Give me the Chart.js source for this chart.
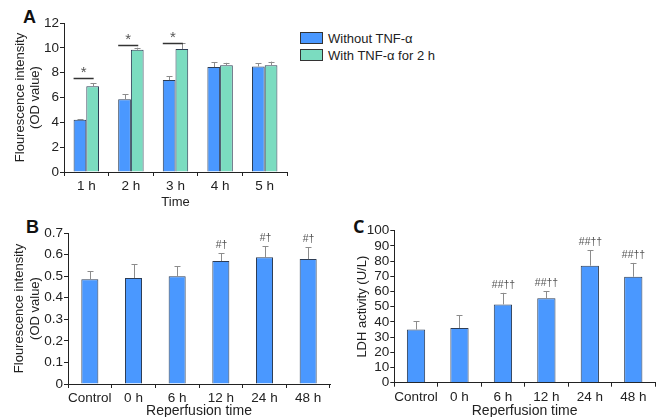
<!DOCTYPE html>
<html>
<head>
<meta charset="utf-8">
<script src="https://cdn.jsdelivr.net/npm/chart.js@4.4.1/dist/chart.umd.min.js"></script>
<style>
  body { margin: 0; background: #fff; width: 664px; height: 417px; overflow: hidden; position: relative;
         font-family: "Liberation Sans", Arial, sans-serif; color: #222; }
  .pane { position: absolute; }
  .tag { position: absolute; font-weight: bold; font-size: 18px; line-height: 18px; color: #111; }
  .legend { position: absolute; left: 300px; top: 32px; font-size: 13px; }
  .legend .row { display: flex; align-items: center; height: 12px; margin-bottom: 5px; }
  .legend .sw { width: 21px; height: 10px; border: 1px solid #333; margin-right: 5px; }
</style>
</head>
<body>
<div class="tag" style="left:23px;top:8px">A</div>
<div class="tag" style="left:26px;top:218px">B</div>
<div class="tag" style="left:353px;top:217px;font-family:'Open Sans',sans-serif">C</div>
<div class="legend" id="legendA"></div>

<div class="pane" style="left:0;top:0"><canvas id="chartA" width="300" height="210"></canvas></div>
<div class="pane" style="left:0;top:210px"><canvas id="chartB" width="336" height="210"></canvas></div>
<div class="pane" style="left:336px;top:210px"><canvas id="chartC" width="328" height="210"></canvas></div>

<script>
// ---- data ----
// A: fluorescence by time, with / without TNF-a
const timeA = ['1 h', '2 h', '3 h', '4 h', '5 h'];
const seriesA = ['Without TNF-\u03b1', 'With TNF-\u03b1 for 2 h'];
const withoutTNF = [4.2, 5.85, 7.4, 8.45, 8.5];
const withoutTNFsd = [0.05, 0.4, 0.32, 0.4, 0.27];
const withTNF = [6.9, 9.85, 9.9, 8.6, 8.6];
const withTNFsd = [0.24, 0.16, 0.45, 0.19, 0.29];
const sigLineA = [7.55, 10.25, 10.4, null, null]; // height of the "*" bracket

// B and C: by reperfusion time
const reperfusion = ['Control', '0 h', '6 h', '12 h', '24 h', '48 h'];
const fluoB = [0.486, 0.491, 0.5, 0.57, 0.588, 0.579];
const fluoBsd = [0.036, 0.065, 0.045, 0.037, 0.051, 0.056];
const marksB = ['', '', '', '#\u2020', '#\u2020', '#\u2020'];
const ldhC = [35, 36, 51.5, 55.5, 77, 69.7];
const ldhCsd = [5.3, 8.3, 7.6, 4.6, 10.1, 9.1];
const marksC = ['', '', '##\u2020\u2020', '##\u2020\u2020', '##\u2020\u2020', '##\u2020\u2020'];

const BLUE = '#4a98ff';
const GREEN = '#7bdcc0';
const EDGE = '#2d3d55';
const AXIS = '#222';
const TXT = '#222';
const FONT = '"Liberation Sans", Arial, sans-serif';
Chart.defaults.font.family = FONT;

// error bars, significance brackets and the little marks above bars
const errorPlugin = {
  id: 'errBars',
  afterDatasetsDraw(chart, args, opts) {
    const ctx = chart.ctx;
    const y = chart.scales.y;
    ctx.save();
    chart.data.datasets.forEach((ds, i) => {
      const sd = opts.sd[i];
      chart.getDatasetMeta(i).data.forEach((bar, j) => {
        const top = y.getPixelForValue(ds.data[j] + sd[j]);
        const x = Math.round(bar.x) + 0.5;
        ctx.strokeStyle = '#8c8c8c';
        ctx.lineWidth = 1;
        ctx.beginPath();
        ctx.moveTo(x, bar.y);
        ctx.lineTo(x, top);
        ctx.moveTo(x - 3, Math.round(top) + 0.5);
        ctx.lineTo(x + 3, Math.round(top) + 0.5);
        ctx.stroke();
        if (opts.marks && opts.marks[j]) {
          ctx.fillStyle = '#555';
          ctx.font = '10.5px ' + FONT;
          ctx.textAlign = 'center';
          ctx.textBaseline = 'bottom';
          ctx.fillText(opts.marks[j], x, top - 3);
        }
      });
    });
    if (opts.sig) {
      const m0 = chart.getDatasetMeta(0).data;
      const m1 = chart.getDatasetMeta(1).data;
      opts.sig.forEach((v, j) => {
        if (v == null) return;
        const x0 = m0[j].x - m0[j].width / 2;
        const x1 = m1[j].x + 1;
        const yy = Math.round(y.getPixelForValue(v)) + 0.5;
        ctx.strokeStyle = '#333';
        ctx.lineWidth = 1.5;
        ctx.beginPath();
        ctx.moveTo(x0, yy);
        ctx.lineTo(x1, yy);
        ctx.stroke();
        ctx.fillStyle = '#555';
        ctx.font = '15px ' + FONT;
        ctx.textAlign = 'center';
        ctx.textBaseline = 'alphabetic';
        ctx.fillText('*', (x0 + x1) / 2, yy - 1.5);
      });
    }
    ctx.restore();
  }
};

function xAxis(title, h, titleSize) {
  return {
    grid: { drawOnChartArea: false, color: AXIS, tickLength: 4, offset: true },
    border: { display: true, color: AXIS, width: 1 },
    ticks: { color: TXT, font: { size: 13.5 }, padding: 2, maxRotation: 0, autoSkip: false },
    title: { display: true, text: title, color: TXT, font: { size: titleSize }, padding: { top: 0, bottom: 0 } },
    afterFit: s => { s.height = h; }
  };
}

function yAxis(title, w, max, step, padTop) {
  return {
    min: 0, max: max,
    grid: { drawOnChartArea: false, color: AXIS, tickLength: 4 },
    border: { display: true, color: AXIS, width: 1 },
    ticks: { stepSize: step, autoSkip: false, color: TXT, font: { size: 13.5 }, padding: 1,
             callback: v => String(Math.round(v * 10) / 10) },
    title: { display: true, text: title, color: TXT, font: { size: 13 }, padding: { top: padTop, bottom: 0 } },
    afterFit: s => { s.width = w; }
  };
}

function baseOptions(pad, pct, extra) {
  return {
    responsive: false,
    animation: false,
    layout: { padding: pad },
    datasets: { bar: pct },
    plugins: { legend: { display: false }, tooltip: { enabled: false }, errBars: extra },
    scales: {}
  };
}

// ---- A ----
const optA = baseOptions({ top: 23, right: 13, left: 0, bottom: 0 },
  { categoryPercentage: 0.57, barPercentage: 1 },
  { sd: [withoutTNFsd, withTNFsd], sig: sigLineA });
optA.scales.x = xAxis('Time', 38, 13);
optA.scales.y = yAxis(['Flourescence intensity', '(OD value)'], 64, 12, 2, 12.5);
new Chart(document.getElementById('chartA'), {
  type: 'bar',
  data: {
    labels: timeA,
    datasets: [
      { label: seriesA[0], data: withoutTNF, backgroundColor: BLUE, borderColor: EDGE, borderWidth: 1 },
      { label: seriesA[1], data: withTNF, backgroundColor: GREEN, borderColor: EDGE, borderWidth: 1 }
    ]
  },
  options: optA,
  plugins: [errorPlugin]
});

// legend for A, built from the series names
const legendA = document.getElementById('legendA');
[BLUE, GREEN].forEach((c, i) => {
  const row = document.createElement('div');
  row.className = 'row';
  row.innerHTML = '<span class="sw" style="background:' + c + '"></span><span>' + seriesA[i] + '</span>';
  legendA.appendChild(row);
});

// ---- B ----
const optB = baseOptions({ top: 23, right: 6, left: 0, bottom: 0 },
  { categoryPercentage: 1, barPercentage: 0.39 },
  { sd: [fluoBsd], marks: marksB });
optB.scales.x = xAxis('Reperfusion time', 36, 14);
optB.scales.y = yAxis(['Flourescence intensity', '(OD value)'], 68, 0.7, 0.1, 11.8);
new Chart(document.getElementById('chartB'), {
  type: 'bar',
  data: { labels: reperfusion, datasets: [{ data: fluoB, backgroundColor: BLUE, borderColor: EDGE, borderWidth: 1 }] },
  options: optB,
  plugins: [errorPlugin]
});

// ---- C ----
const optC = baseOptions({ top: 20.7, right: 9, left: 0, bottom: 0 },
  { categoryPercentage: 1, barPercentage: 0.42 },
  { sd: [ldhCsd], marks: marksC });
optC.scales.x = xAxis('Reperfusion time', 37.3, 14);
optC.scales.y = yAxis('LDH activity (U/L)', 58.3, 100, 10, 18.2);
new Chart(document.getElementById('chartC'), {
  type: 'bar',
  data: { labels: reperfusion, datasets: [{ data: ldhC, backgroundColor: BLUE, borderColor: EDGE, borderWidth: 1 }] },
  options: optC,
  plugins: [errorPlugin]
});
</script>
</body>
</html>
